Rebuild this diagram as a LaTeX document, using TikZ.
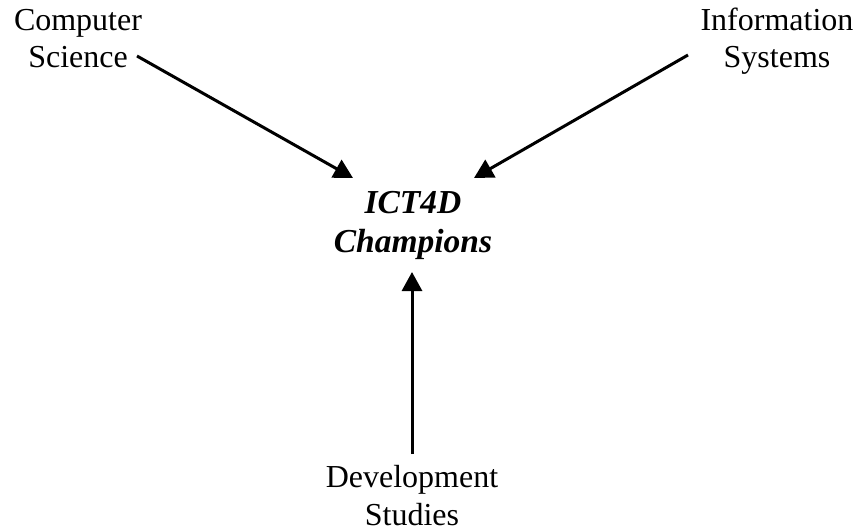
\documentclass[tikz,border=0pt]{standalone}
\usepackage{fontspec}
\setmainfont{Liberation Serif}
\usetikzlibrary{arrows.meta}
\tikzset{
  lbl/.style={align=center, anchor=base, inner sep=0pt, font=\fontsize{32}{37.5}\selectfont},
  core/.style={lbl, font=\fontsize{33.5}{39}\selectfont\bfseries\itshape},
  conn/.style={line width=3pt, -{Triangle[length=19pt,width=20pt]}}
}
\begin{document}
\begin{tikzpicture}[x=1pt,y=1pt]
\useasboundingbox (0,0) rectangle (862,531);
\node[lbl] (cs) at (78,463) {Computer\\Science};
\node[lbl] (is) at (777,463) {Information\\Systems};
\node[core] (ict) at (413,279) {ICT4D\\Champions};
\node[lbl] (ds) at (412,6) {Development\\Studies};
\draw[conn] ([shift={(59,12)}]cs.base) -- ([shift={(-60,74)}]ict.base);
\draw[conn] ([shift={(-89,13)}]is.base) -- ([shift={(61,74)}]ict.base);
\draw[conn] ([shift={(0,71)}]ds.base) -- ([shift={(-1,-20)}]ict.base);
\end{tikzpicture}
\end{document}
